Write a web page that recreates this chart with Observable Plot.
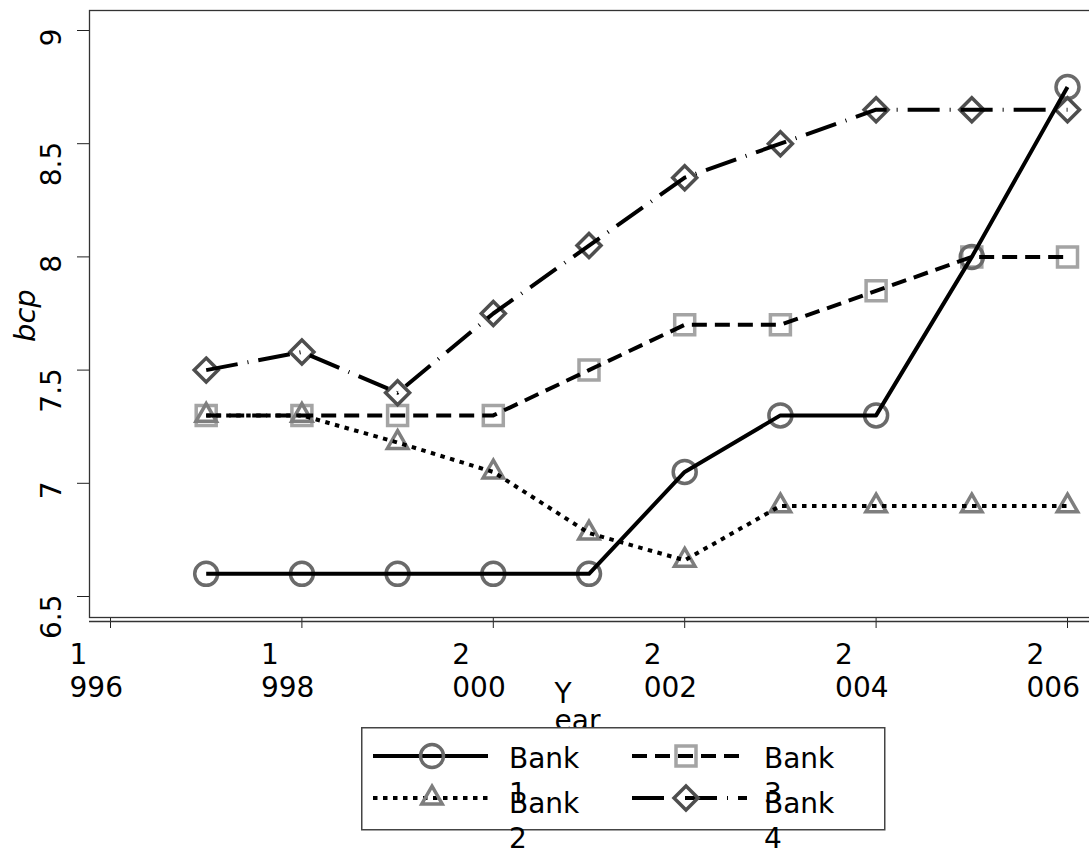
<!DOCTYPE html>
<html><head><meta charset="utf-8">
<script src="https://cdn.jsdelivr.net/npm/d3@7"></script>
<script src="https://cdn.jsdelivr.net/npm/@observablehq/plot@0.6"></script>
<style>
body{margin:0;background:#fff;}
#wrap{position:relative;width:1089px;height:848px;overflow:hidden;font-family:"DejaVu Sans";background:#fff;}
#legend{position:absolute;left:361px;top:727px;overflow:visible;}
</style></head><body><div id="wrap"></div>
<script>
const years = [1997, 1998, 1999, 2000, 2001, 2002, 2003, 2004, 2005, 2006];
const bank1 = [6.6, 6.6, 6.6, 6.6, 6.6, 7.05, 7.3, 7.3, 8.0, 8.75];
const bank2 = [7.3, 7.3, 7.18, 7.05, 6.78, 6.66, 6.9, 6.9, 6.9, 6.9];
const bank3 = [7.3, 7.3, 7.3, 7.3, 7.5, 7.7, 7.7, 7.85, 8.0, 8.0];
const bank4 = [7.5, 7.58, 7.4, 7.75, 8.05, 8.35, 8.5, 8.65, 8.65, 8.65];
const seriesNames = ["Bank 1", "Bank 2", "Bank 3", "Bank 4"];
const xTicks = [1996, 1998, 2000, 2002, 2004, 2006];
const yTicks = [6.5, 7, 7.5, 8, 8.5, 9];
const xLabel = "Year";
const yLabel = "bcp";

const toRows = (vals) => years.map((yr, i) => ({year: yr, value: vals[i]}));
const rows = [bank1, bank2, bank3, bank4].map(toRows);

const symSquare = {draw(ctx, size){const h=Math.sqrt(size/Math.PI); ctx.moveTo(-h,-h); ctx.lineTo(h,-h); ctx.lineTo(h,h); ctx.lineTo(-h,h); ctx.closePath();}};
const symDiamond = {draw(ctx, size){const h=Math.sqrt(size/Math.PI); ctx.moveTo(0,-h); ctx.lineTo(h,0); ctx.lineTo(0,h); ctx.lineTo(-h,0); ctx.closePath();}};
const symTriangle = {draw(ctx, size){const R=Math.sqrt(size/Math.PI); const s=R*Math.sqrt(3); ctx.moveTo(0,-R); ctx.lineTo(s/2,R/2); ctx.lineTo(-s/2,R/2); ctx.closePath();}};
const symCircle = {draw(ctx, size){const r=Math.sqrt(size/Math.PI); ctx.moveTo(r,0); ctx.arc(0,0,r,0,2*Math.PI); ctx.closePath();}};

const styles = [
  {dash: null, sym: symCircle, r: 11.5, color: "#6a6a6a"},
  {dash: "4.5,5.5", sym: symTriangle, r: 11.8, color: "#7e7e7e"},
  {dash: "15,8", sym: symSquare, r: 10, color: "#a4a4a4"},
  {dash: "32,10,1,10", sym: symDiamond, r: 12, color: "#4e4e4e"}
];

const dotMark = (k) => Plot.dot(rows[k], {x: "year", y: "value", symbol: styles[k].sym, r: styles[k].r, stroke: styles[k].color, strokeWidth: 3.5, fill: "none"});
const lineMark = (k) => Plot.line(rows[k], {x: "year", y: "value", stroke: "#000", strokeWidth: 4, strokeDasharray: styles[k].dash || undefined, strokeLinecap: "butt"});

const FS = 28;
const fmt = (d) => String(d);
const chart = Plot.plot({
  width: 1089,
  height: 848,
  marginLeft: 89,
  marginRight: 0,
  marginTop: 10,
  marginBottom: 231,
  style: {fontFamily: "DejaVu Sans", fontSize: FS + "px", color: "#222", background: "white", overflow: "visible"},
  x: {domain: [1996, 2006], range: [110, 1067], ticks: xTicks, tickSize: 11, tickFormat: () => "", label: null},
  y: {domain: [6.5, 9], range: [596, 30], ticks: yTicks, tickSize: 12, tickFormat: () => "", label: null},
  marks: [
    Plot.frame({stroke: "#333", strokeWidth: 1.3, insetRight: -6}),
    Plot.ruleY([yTicks[0]], {dy: 25, stroke: "#333", strokeWidth: 1.3}),
    Plot.text(yTicks, {y: d => d, frameAnchor: "left", dx: -37, dy: -2, rotate: -90, textAnchor: "end", text: fmt, fontSize: FS, fill: "#000"}),
    Plot.text(xTicks, {x: d => d, frameAnchor: "bottom", text: d => String(d)[0] + "\n" + String(d).slice(1), textAnchor: "start", lineAnchor: "top", dx: -41, dy: 23, lineHeight: 1.18, fontSize: FS, fill: "#000"}),
    Plot.text([yLabel], {frameAnchor: "left", text: d => d, rotate: -90, dx: -64, dy: 28, fontStyle: "italic", fontSize: 29, fill: "#000"}),
    Plot.text([xLabel], {frameAnchor: "bottom", text: d => d[0] + "\n" + d.slice(1), textAnchor: "start", lineAnchor: "top", dx: -35, dy: 66, lineHeight: 0.98, fontSize: FS, fill: "#000"}),
    dotMark(2), dotMark(0), dotMark(1), dotMark(3),
    lineMark(0), lineMark(1), lineMark(2), lineMark(3)
  ]
});
document.getElementById("wrap").appendChild(chart);

// Legend
const lg = d3.select("#wrap").append("svg").attr("id", "legend").attr("width", 526).attr("height", 122);
lg.append("rect").attr("x", 0.75).attr("y", 0.75).attr("width", 523).attr("height", 102).attr("fill", "#fff").attr("stroke", "#444").attr("stroke-width", 1.5);
const pos = [
  {lx: 12, mx: 71, tx: 148, ly: 29, tb: 41},
  {lx: 12, mx: 71, tx: 148, ly: 71, tb: 86},
  {lx: 271, mx: 325, tx: 403, ly: 29, tb: 41},
  {lx: 271, mx: 325, tx: 403, ly: 71, tb: 86}
];
seriesNames.forEach((name, k) => {
  const p = pos[k], s = styles[k];
  lg.append("line").attr("x1", p.lx).attr("x2", p.lx + 115).attr("y1", p.ly).attr("y2", p.ly)
    .attr("stroke", "#000").attr("stroke-width", 4).attr("stroke-dasharray", s.dash);
  const path = d3.path();
  s.sym.draw(path, s.r * s.r * Math.PI);
  lg.append("path").attr("d", path.toString()).attr("transform", `translate(${p.mx},${p.ly})`)
    .attr("fill", "none").attr("stroke", s.color).attr("stroke-width", 3.5);
});
[0, 2, 1, 3].forEach(k => {
  const p = pos[k];
  const parts = seriesNames[k].split(" ");
  const t = lg.append("text").attr("x", p.tx).attr("y", p.tb).attr("font-family", "DejaVu Sans").attr("font-size", FS).attr("fill", "#000");
  t.append("tspan").attr("x", p.tx).text(parts[0]);
  t.append("tspan").attr("x", p.tx).attr("dy", 35).text(parts[1]);
});
</script>
</body></html>
